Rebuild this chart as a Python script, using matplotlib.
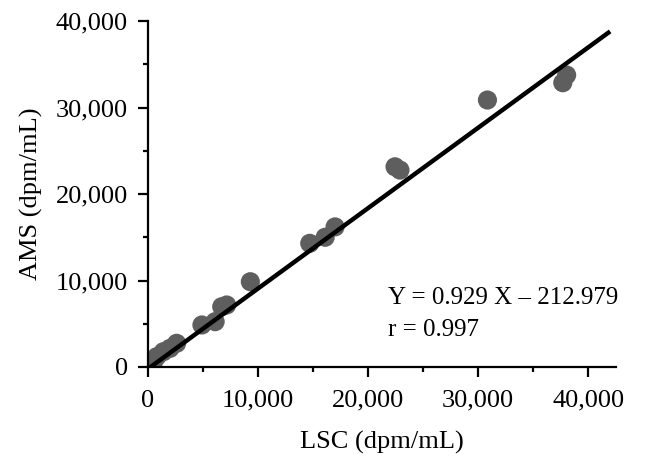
import matplotlib
matplotlib.use("Agg")
import matplotlib.pyplot as plt
import numpy as np
from matplotlib.ticker import FuncFormatter, MultipleLocator

# Paired measurements (dpm/mL)
lsc = [200, 500, 800, 1400, 2000, 2600, 4900, 6100, 6700, 7150, 9300,
       14700, 16100, 17000, 22450, 22900, 30850, 37700, 38050]
ams = [230, 600, 1200, 1770, 2160, 2740, 4860, 5240, 6970, 7170, 9860,
       14300, 15000, 16200, 23150, 22770, 30870, 32870, 33760]

slope = 0.929
intercept = -212.979
r_value = 0.997

x_ticks = [0, 10000, 20000, 30000, 40000]
y_ticks = [0, 10000, 20000, 30000, 40000]

plt.rcParams["font.family"] = ["Liberation Serif", "DejaVu Serif"]

fig = plt.figure(figsize=(6.57, 4.58), dpi=100)
ax = fig.add_axes([0.2253, 0.1987, 0.937 - 0.2253, 0.954 - 0.1987])

ax.scatter(lsc, ams, s=190, color="#5e5e5e", edgecolors="none", zorder=2)

fit_x = np.array([0, 42000])
ax.plot(fit_x, slope * fit_x + intercept, color="black", lw=3.2, zorder=3,
        solid_capstyle="butt")

ax.set_xlim(0, 42500)
ax.set_ylim(0, 40000)
ax.set_xticks(x_ticks)
ax.set_yticks(y_ticks)
ax.xaxis.set_minor_locator(MultipleLocator(5000))
ax.yaxis.set_minor_locator(MultipleLocator(5000))
fmt = FuncFormatter(lambda v, p: f"{int(v):,}")
ax.xaxis.set_major_formatter(fmt)
ax.yaxis.set_major_formatter(fmt)

for side in ("top", "right"):
    ax.spines[side].set_visible(False)
for side in ("left", "bottom"):
    ax.spines[side].set_linewidth(1.6)

ax.tick_params(which="major", direction="out", length=7.5, width=1.6,
               labelsize=19)
ax.tick_params(axis="x", which="major", pad=9)
ax.tick_params(axis="y", which="major", pad=7)
ax.tick_params(which="minor", direction="out", length=3.8, width=1.6)

ax.set_xlabel("LSC (dpm/mL)", fontsize=19, labelpad=14)
ax.set_ylabel("AMS (dpm/mL)", fontsize=19, labelpad=9)

ax.text(21800, 8000, f"Y = {slope} X \u2013 {abs(intercept):.3f}", fontsize=18,
        ha="left", va="center")
ax.text(21800, 4300, f"r = {r_value}", fontsize=18, ha="left", va="center")

fig.savefig("out.png", dpi=100)
